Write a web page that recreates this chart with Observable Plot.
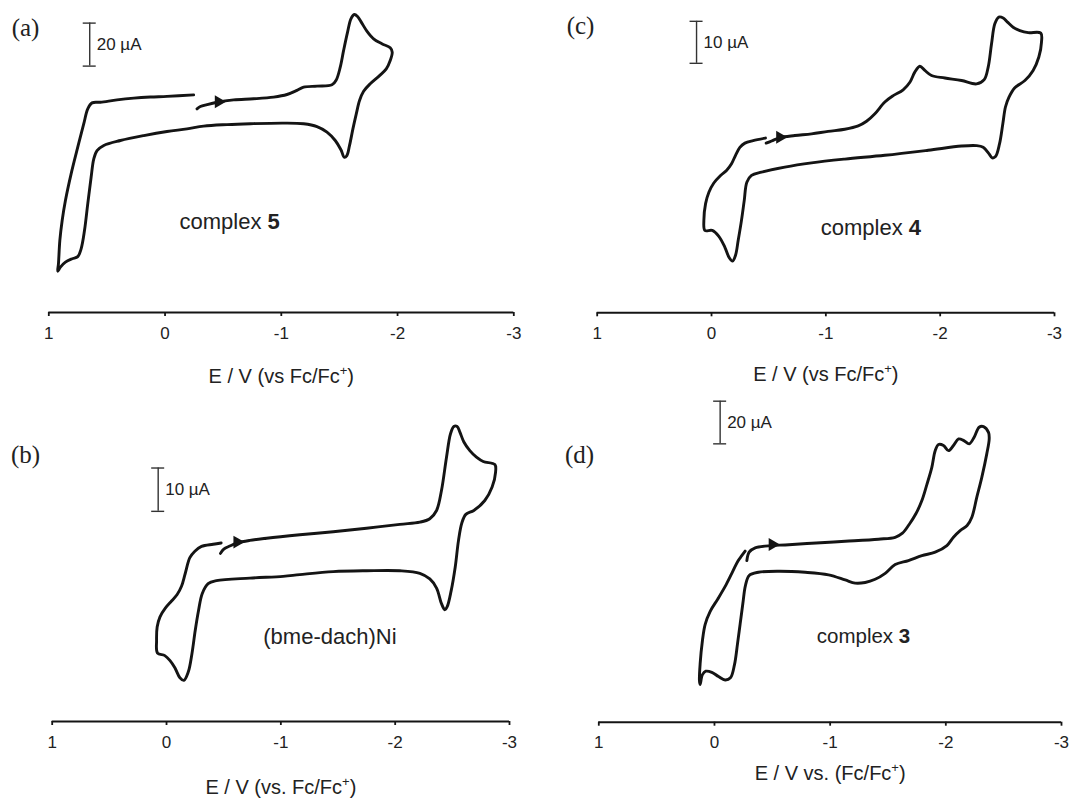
<!DOCTYPE html>
<html><head><meta charset="utf-8">
<script src="https://cdn.jsdelivr.net/npm/d3@7"></script>
<script src="https://cdn.jsdelivr.net/npm/@observablehq/plot@0.6"></script>
<style>
body{margin:0;background:#fff;}
#wrap{position:relative;width:1090px;height:800px;background:#fff;overflow:hidden;}
.panel{position:absolute;}
</style></head><body><div id="wrap"></div>
<script>
// ---- axis ticks (E / V vs Fc/Fc+) ----
const ticksE = [1, 0, -1, -2, -3];
const tickLabels = ["1", "0", "-1", "-2", "-3"];

// ---- panel texts ----
const panelLetters = ["(a)", "(c)", "(b)", "(d)"];
const xTitles = ["E / V (vs Fc/Fc⁺)", "E / V (vs Fc/Fc⁺)", "E / V (vs. Fc/Fc⁺)", "E / V vs. (Fc/Fc⁺)"];
const compoundNames = ["complex", "complex", "(bme-dach)Ni", "complex"];
const compoundNumbers = ["5", "4", "", "3"];
const scaleBarValues = [20, 10, 10, 20]; // µA

// ---- (a) complex 5 : potential (V) and current (µA, arbitrary zero) ----
const aE = [-0.275,-0.304,-0.361,-0.447,-0.590,-0.762,-0.934,-1.049,-1.135,-1.192,-1.307,-1.436,-1.473,-1.507,-1.536,-1.570,-1.599,-1.628,-1.656,-1.693,-1.736,-1.794,-1.865,-1.937,-1.954,-1.937,-1.903,-1.845,-1.765,-1.708,-1.673,-1.645,-1.616,-1.587,-1.564,-1.542,-1.513,-1.464,-1.393,-1.307,-1.192,-1.020,-0.734,-0.533,-0.332,-0.189,-0.017,0.183,0.384,0.527,0.585,0.613,0.636,0.665,0.693,0.722,0.751,0.799,0.857,0.900,0.923,0.917,0.905,0.885,0.857,0.808,0.751,0.699,0.665,0.628,0.556,0.413,0.269,0.126,-0.017,-0.246];
const aI = [94.7,95.8,96.7,97.8,98.9,99.4,100.2,101.4,103.3,104.8,105.3,105.9,108.2,114.1,121.9,130.4,136.6,138.6,137.7,134.6,130.9,127.3,125.0,123.1,121.1,117.2,113.3,110.2,106.4,102.9,98.6,92.4,85.4,77.7,73.0,72.2,75.7,80.0,83.9,86.5,87.8,88.1,87.8,87.4,86.7,85.4,84.2,82.3,80.0,77.7,75.3,71.5,62.9,50.5,38.1,29.6,26.0,25.0,23.4,21.1,19.2,22.6,33.5,42.8,52.1,64.5,76.9,87.8,94.7,97.5,97.8,98.9,99.7,100.2,100.5,101.2];

// ---- (c) complex 4 ----
const cE = [-0.478,-0.525,-0.598,-0.729,-0.875,-1.020,-1.166,-1.283,-1.356,-1.429,-1.516,-1.589,-1.676,-1.735,-1.778,-1.822,-1.866,-1.924,-2.041,-2.187,-2.318,-2.385,-2.420,-2.449,-2.478,-2.513,-2.551,-2.589,-2.638,-2.697,-2.770,-2.880,-2.886,-2.863,-2.813,-2.741,-2.653,-2.601,-2.571,-2.548,-2.519,-2.484,-2.455,-2.426,-2.376,-2.318,-2.187,-1.895,-1.516,-1.166,-0.875,-0.641,-0.437,-0.350,-0.309,-0.286,-0.262,-0.233,-0.210,-0.184,-0.155,-0.117,-0.064,-0.006,0.058,0.067,0.052,0.023,-0.020,-0.079,-0.131,-0.175,-0.210,-0.248,-0.292,-0.364,-0.472];
const cI = [40.4,40.9,41.7,42.2,42.6,43.2,43.7,44.5,45.6,47.4,50.2,51.7,53.1,54.9,57.3,58.7,57.7,56.5,55.9,55.3,54.5,55.5,58.5,64.0,68.8,70.4,70.2,69.2,68.0,67.2,66.7,66.6,64.4,60.9,57.7,55.3,53.6,51.3,49.0,45.0,40.2,37.2,36.9,37.9,39.4,39.8,39.7,38.7,37.5,36.6,35.7,34.7,33.5,32.7,31.1,26.7,22.0,17.2,13.7,12.3,13.1,15.6,18.2,19.6,19.6,22.0,26.0,28.7,30.9,32.7,33.9,35.5,37.5,39.4,40.4,41.0,41.6];

// ---- (b) (bme-dach)Ni ----
const bE = [-0.472,-0.501,-0.554,-0.618,-0.729,-0.875,-1.166,-1.458,-1.749,-2.041,-2.216,-2.303,-2.362,-2.405,-2.449,-2.484,-2.513,-2.542,-2.566,-2.601,-2.653,-2.711,-2.770,-2.872,-2.878,-2.848,-2.784,-2.688,-2.618,-2.583,-2.554,-2.525,-2.490,-2.455,-2.434,-2.405,-2.362,-2.303,-2.216,-2.041,-1.749,-1.458,-1.166,-1.020,-0.729,-0.437,-0.364,-0.312,-0.280,-0.251,-0.222,-0.190,-0.152,-0.117,-0.073,-0.029,0.015,0.079,0.087,0.082,0.058,0.009,-0.044,-0.093,-0.131,-0.163,-0.204,-0.248,-0.306,-0.408,-0.478];
const bI = [38.8,39.8,40.5,41.2,41.8,42.3,43.1,43.8,44.6,45.5,46.0,46.8,48.7,53.3,61.0,66.4,68.1,68.1,66.8,64.5,62.5,61.0,60.0,59.3,57.5,54.1,51.0,48.7,47.8,45.8,41.8,35.6,30.2,26.5,25.8,27.2,30.8,32.9,34.2,34.8,34.8,34.6,33.9,33.5,33.1,32.5,31.8,29.5,25.6,21.0,15.6,11.4,9.5,10.1,12.4,14.1,15.2,15.8,18.7,21.8,24.1,26.2,27.8,29.3,31.2,34.1,37.8,39.3,40.4,40.9,41.2];

// ---- (d) complex 3 ----
const dE = [-0.280,-0.300,-0.352,-0.496,-0.611,-0.841,-1.130,-1.418,-1.562,-1.625,-1.683,-1.741,-1.793,-1.836,-1.879,-1.908,-1.937,-1.980,-2.023,-2.066,-2.110,-2.156,-2.202,-2.245,-2.288,-2.326,-2.369,-2.375,-2.354,-2.311,-2.268,-2.225,-2.184,-2.124,-2.066,-2.009,-1.908,-1.793,-1.677,-1.562,-1.476,-1.389,-1.303,-1.216,-1.130,-0.986,-0.784,-0.553,-0.380,-0.300,-0.268,-0.245,-0.222,-0.199,-0.173,-0.138,-0.092,-0.035,0.023,0.075,0.104,0.124,0.130,0.124,0.104,0.081,0.037,-0.029,-0.101,-0.159,-0.202,-0.236,-0.265];
const dI = [75.8,79.7,81.7,82.8,83.1,83.9,84.8,85.8,86.7,88.6,92.7,97.7,103.9,111.4,119.5,127.3,130.2,129.7,127.3,129.7,132.8,132.0,130.5,133.6,138.3,138.6,135.9,132.8,125.8,114.8,105.5,96.1,92.2,89.8,86.7,82.8,79.7,78.1,75.8,73.9,69.8,67.0,65.5,65.2,66.7,69.1,70.3,70.8,70.3,68.8,64.1,55.5,46.1,36.7,27.0,20.8,19.8,21.4,23.4,23.9,22.3,17.7,19.5,27.3,38.3,45.8,52.0,57.8,64.5,70.8,75.5,78.1,80.2];

// ---- scan-direction arrows (E, I) ----
const arrowE = [-0.46, -0.598, -0.618, -0.501];
const arrowI = [98.0, 41.8, 41.4, 83.3];

// ---- scale bar anchors (E, top current) and compound-label anchors ----
const barE = [0.648, 0.131, 0.073, -0.049];
const barTop = [134.6, 69.4, 58.5, 150.5];
const nameE = [-0.556, -1.394, -1.429, -1.288];
const nameI = [42.3, 20.2, 19.5, 40.2];

const seriesE = [aE, cE, bE, dE];
const seriesI = [aI, cI, bI, dI];

// ---- layout (pixels) ----
const layout = [
  {left: 0,   top: 0,   width: 545, height: 390, mL: 48.3, mR: 31.7, axis: 312,   ppu: 2.15,  letter: [25, 27], titleDy: 64, nameSize: 22},
  {left: 545, top: 0,   width: 545, height: 390, mL: 51.7, mR: 36,   axis: 312.3, ppu: 4.2,   letter: [35, 25], titleDy: 62, nameSize: 22},
  {left: 0,   top: 390, width: 545, height: 410, mL: 51.7, mR: 36,   axis: 331,   ppu: 4.333, letter: [25, 64], titleDy: 66, nameSize: 22},
  {left: 545, top: 390, width: 545, height: 410, mL: 53.3, mR: 29,   axis: 331.7, ppu: 2.133, letter: [34, 64], titleDy: 51, nameSize: 20.5}
];

const INK = "#141414";
const SANS = "'Liberation Sans', Arial, Helvetica, sans-serif";
const SERIF = "'Liberation Serif', 'Times New Roman', serif";
const wrap = document.getElementById("wrap");

layout.forEach((L, k) => {
  const table = seriesE[k].map((e, j) => ({E: e, I: seriesI[k][j]}));
  const pxPerV = (L.width - L.mL - L.mR) / 4;
  const capHalf = 6.5 / pxPerV;
  const bar = [{E: barE[k], top: barTop[k], bottom: barTop[k] - scaleBarValues[k]}];
  const nameRow = [{E: nameE[k], I: nameI[k]}];
  const marks = [
    Plot.ruleY([0], {stroke: INK, strokeWidth: 2}),
    Plot.axisX(ticksE, {
      tickFormat: d => tickLabels[ticksE.indexOf(d)],
      tickSize: 4, tickPadding: 10, fontSize: 17, strokeWidth: 1.8,
      stroke: INK, fill: "#222", label: null
    }),
    Plot.line(table, {x: "E", y: "I", stroke: INK, strokeWidth: 2.9, curve: "catmull-rom", strokeLinejoin: "round", strokeLinecap: "round"}),
    Plot.dot([{E: arrowE[k], I: arrowI[k]}], {x: "E", y: "I", symbol: "triangle", r: 4.8, fill: INK, stroke: null, rotate: 90}),
    // scale bar
    Plot.ruleX(bar, {x: "E", y1: "bottom", y2: "top", stroke: "#333", strokeWidth: 1.4}),
    Plot.ruleY(bar, {y: "top", x1: d => d.E + capHalf, x2: d => d.E - capHalf, stroke: "#333", strokeWidth: 1.4}),
    Plot.ruleY(bar, {y: "bottom", x1: d => d.E + capHalf, x2: d => d.E - capHalf, stroke: "#333", strokeWidth: 1.4}),
    Plot.text(bar, {x: "E", y: d => (d.top + d.bottom) / 2, text: () => scaleBarValues[k] + " µA", textAnchor: "start", dx: 7, fontSize: 17, fill: "#222"}),
    // panel letter
    Plot.text([panelLetters[k]], {frameAnchor: "top-left", dx: L.letter[0] - L.mL, dy: L.letter[1], textAnchor: "middle", lineAnchor: "middle", fontSize: 25, fontFamily: SERIF, fill: "#222"}),
    // x title
    Plot.text([xTitles[k]], {frameAnchor: "bottom", dy: L.titleDy, lineAnchor: "middle", fontSize: 20, fill: "#222"})
  ];
  if (compoundNumbers[k]) {
    marks.push(Plot.text(nameRow, {x: "E", y: "I", text: () => compoundNames[k], textAnchor: "start", dx: -0.5 * (4.557 * L.nameSize), lineAnchor: "middle", fontSize: L.nameSize, fill: "#222"}));
    marks.push(Plot.text(nameRow, {x: "E", y: "I", text: () => compoundNumbers[k], textAnchor: "end", dx: 0.5 * (4.557 * L.nameSize), lineAnchor: "middle", fontSize: L.nameSize, fontWeight: "bold", fill: "#222"}));
  } else {
    marks.push(Plot.text(nameRow, {x: "E", y: "I", text: () => compoundNames[k], textAnchor: "middle", lineAnchor: "middle", fontSize: L.nameSize, fill: "#222"}));
  }
  const svg = Plot.plot({
    width: L.width, height: L.height,
    marginLeft: L.mL, marginRight: L.mR, marginTop: 0, marginBottom: L.height - L.axis,
    x: {domain: [1, -3], axis: null},
    y: {domain: [0, L.axis / L.ppu], axis: null},
    style: {fontFamily: SANS, background: "transparent", overflow: "visible", color: "#222"},
    marks
  });
  // render the "+" of Fc+ as a real superscript
  svg.querySelectorAll("text").forEach(t => {
    if (t.children.length === 0 && t.textContent.includes("⁺")) {
      const [pre, post] = t.textContent.split("⁺");
      t.textContent = "";
      t.appendChild(document.createTextNode(pre));
      const sup = document.createElementNS("http://www.w3.org/2000/svg", "tspan");
      sup.setAttribute("dy", "-8"); sup.setAttribute("font-size", "13"); sup.textContent = "+";
      const rest = document.createElementNS("http://www.w3.org/2000/svg", "tspan");
      rest.setAttribute("dy", "8"); rest.textContent = post;
      t.appendChild(sup); t.appendChild(rest);
    }
  });
  const holder = document.createElement("div");
  holder.className = "panel";
  holder.style.left = L.left + "px";
  holder.style.top = L.top + "px";
  holder.appendChild(svg);
  wrap.appendChild(holder);
});
</script></body></html>
